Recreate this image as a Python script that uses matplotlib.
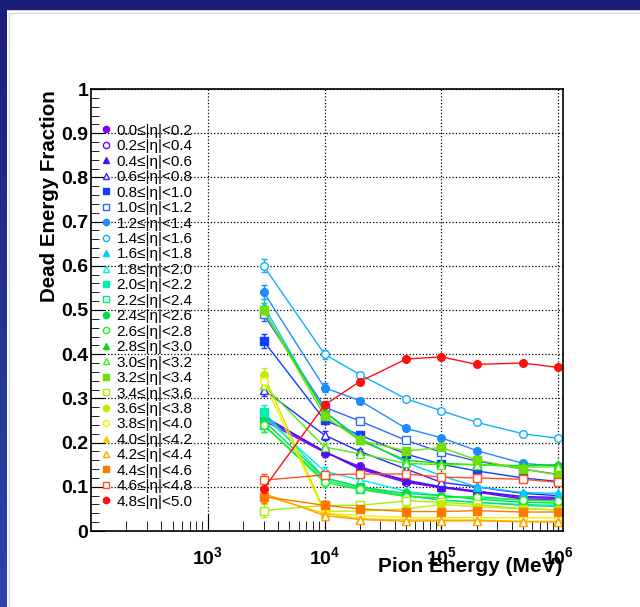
import numpy as np
import matplotlib.pyplot as plt
from matplotlib.lines import Line2D

plt.rcParams['font.family'] = ['Liberation Sans', 'DejaVu Sans']
plt.rcParams['mathtext.fontset'] = 'custom'
plt.rcParams['mathtext.bf'] = 'Liberation Sans:bold'
plt.rcParams['mathtext.rm'] = 'Liberation Sans'

# pion energies (MeV)
energy = [3e3, 1e4, 2e4, 5e4, 1e5, 2e5, 5e5, 1e6]

eta_bins = ['0.0', '0.2', '0.4', '0.6', '0.8', '1.0', '1.2', '1.4', '1.6', '1.8',
            '2.0', '2.2', '2.4', '2.6', '2.8', '3.0', '3.2', '3.4', '3.6', '3.8',
            '4.0', '4.2', '4.4', '4.6', '4.8', '5.0']

# dead energy fraction for each |eta| slice
eta_00 = [0.250, 0.178, 0.146, 0.112, 0.100, 0.090, 0.075, 0.074]
eta_02 = [0.255, 0.180, 0.140, 0.110, 0.098, 0.088, 0.072, 0.070]
eta_04 = [0.260, 0.180, 0.142, 0.115, 0.100, 0.090, 0.078, 0.076]
eta_06 = [0.320, 0.217, 0.180, 0.140, 0.110, 0.100, 0.085, 0.080]
eta_08 = [0.430, 0.251, 0.217, 0.174, 0.151, 0.136, 0.120, 0.112]
eta_10 = [0.490, 0.280, 0.249, 0.205, 0.178, 0.158, 0.140, 0.128]
eta_12 = [0.541, 0.324, 0.295, 0.232, 0.211, 0.182, 0.153, 0.147]
eta_14 = [0.600, 0.400, 0.354, 0.299, 0.272, 0.246, 0.220, 0.210]
eta_16 = [0.510, 0.270, 0.210, 0.155, 0.125, 0.100, 0.087, 0.085]
eta_18 = [0.260, 0.135, 0.116, 0.090, 0.080, 0.075, 0.070, 0.068]
eta_20 = [0.270, 0.120, 0.100, 0.080, 0.070, 0.065, 0.060, 0.058]
eta_22 = [0.240, 0.115, 0.096, 0.080, 0.070, 0.065, 0.058, 0.055]
eta_24 = [0.250, 0.120, 0.100, 0.085, 0.080, 0.072, 0.065, 0.063]
eta_26 = [0.240, 0.110, 0.094, 0.078, 0.075, 0.078, 0.070, 0.068]
eta_28 = [0.500, 0.270, 0.205, 0.160, 0.153, 0.150, 0.148, 0.150]
eta_30 = [0.330, 0.190, 0.175, 0.153, 0.150, 0.150, 0.145, 0.145]
eta_32 = [0.500, 0.260, 0.205, 0.181, 0.189, 0.161, 0.140, 0.127]
eta_34 = [0.046, 0.058, 0.058, 0.068, 0.065, 0.060, 0.050, 0.048]
eta_36 = [0.354, 0.045, 0.045, 0.050, 0.060, 0.055, 0.050, 0.048]
eta_38 = [0.340, 0.040, 0.035, 0.030, 0.030, 0.030, 0.030, 0.030]
eta_40 = [0.080, 0.040, 0.028, 0.025, 0.025, 0.025, 0.022, 0.022]
eta_42 = [0.085, 0.035, 0.026, 0.022, 0.023, 0.023, 0.021, 0.020]
eta_44 = [0.078, 0.058, 0.050, 0.044, 0.044, 0.046, 0.043, 0.043]
eta_46 = [0.115, 0.127, 0.129, 0.129, 0.122, 0.120, 0.117, 0.110]
eta_48 = [0.095, 0.285, 0.338, 0.389, 0.394, 0.377, 0.380, 0.370]

fractions = [eta_00, eta_02, eta_04, eta_06, eta_08, eta_10, eta_12, eta_14, eta_16,
             eta_18, eta_20, eta_22, eta_24, eta_26, eta_28, eta_30, eta_32, eta_34,
             eta_36, eta_38, eta_40, eta_42, eta_44, eta_46, eta_48]

# statistical errors, same for all slices
errors = [0.015, 0.010, 0.006, 0.004, 0.004, 0.003, 0.003, 0.003]

colors = ['#8000ff', '#7000ff', '#4a10f0', '#2828ff', '#1040ff', '#2a6aff', '#1e8cff',
          '#10b0ff', '#00ccff', '#00f0f0', '#00f0b0', '#00e878', '#00e040', '#20f020',
          '#10d810', '#48f010', '#70e000', '#a8f000', '#c8e800', '#f0f000', '#ffc800',
          '#ffa000', '#ff7800', '#ff5020', '#ff1010']
shapes = ['o', 'o', '^', '^', 's', 's']

fig = plt.figure(figsize=(6.4, 6.07), dpi=100)

# ROOT canvas border
band = fig.add_axes([0, 0, 7 / 640, 1])
band.imshow(np.linspace(0, 1, 100).reshape(-1, 1), aspect='auto',
            cmap=plt.matplotlib.colors.LinearSegmentedColormap.from_list('b', ['#1b1e78', '#2e44a8']))
band.axis('off')
fig.patches.append(plt.Rectangle((0, 1 - 9 / 607), 1, 9 / 607, transform=fig.transFigure,
                                 color='#1b1e78', zorder=0))
fig.add_artist(Line2D([9 / 640, 1], [1 - 13 / 607] * 2, color='#d8d8ee', lw=1))
fig.add_artist(Line2D([9 / 640] * 2, [0, 1 - 13 / 607], color='#d8d8ee', lw=1))

ax = fig.add_axes([91 / 640, 1 - 531 / 607, 472 / 640, 442 / 607])

handles = []
for i, frac in enumerate(fractions):
    m = shapes[i % 6]
    filled = (i % 2 == 0)
    ax.errorbar(energy, frac, yerr=errors, color=colors[i], marker=m, ms=5.5, lw=1,
                mfc=colors[i] if filled else 'white', mec=colors[i], mew=1,
                capsize=2.5, elinewidth=1)
    label = eta_bins[i] + '\u2264|\u03b7|<' + eta_bins[i + 1]
    handles.append(Line2D([], [], ls='none', marker=m, ms=4.5, color=colors[i],
                          mfc=colors[i] if filled else 'white', mec=colors[i], mew=1,
                          label=label))

ax.set_xscale('log')
ax.set_xlim(100, 1.1e6)
ax.set_ylim(0, 1)

ax.set_yticks(np.arange(0, 1.01, 0.1))
ax.set_yticklabels(['0', '0.1', '0.2', '0.3', '0.4', '0.5', '0.6', '0.7', '0.8', '0.9', '1'],
                   fontweight='bold', fontsize=14)
ax.set_yticks(np.arange(0, 1.0, 0.02), minor=True)
ax.set_xticks([1e3, 1e4, 1e5, 1e6])
ax.set_xticklabels([r'$\mathbf{10^{3}}$', r'$\mathbf{10^{4}}$', r'$\mathbf{10^{5}}$',
                    r'$\mathbf{10^{6}}$'], fontsize=14)
ax.tick_params(which='both', direction='in', top=False, right=False)
ax.tick_params(axis='y', which='major', length=10, pad=2)
ax.tick_params(axis='y', which='minor', length=6)
ax.tick_params(axis='x', which='major', length=12, pad=11)
ax.tick_params(axis='x', which='minor', length=7)
ax.grid(True, which='major', color='black', ls=':', lw=0.9)
for s in ax.spines.values():
    s.set_linewidth(1.2)

ax.legend(handles=handles, loc='upper left', bbox_to_anchor=(0.006, 0.935),
          frameon=False, fontsize=11, labelspacing=0.095, handlelength=0.8,
          handletextpad=0.3, borderaxespad=0)

fig.text(562 / 640, 1 - 566 / 607, 'Pion Energy (MeV)', ha='right', va='center',
         fontweight='bold', fontsize=15)
fig.text(50 / 640, 1 - 90 / 607, 'Dead Energy Fraction', ha='center', va='top',
         rotation=90, fontweight='bold', fontsize=14.8)

fig.savefig('out.png', dpi=100)
